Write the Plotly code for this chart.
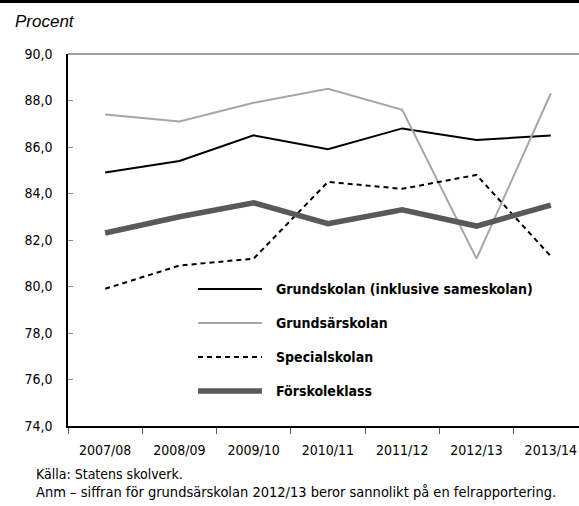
import plotly.graph_objects as go

# läsår
years = ["2007/08", "2008/09", "2009/10", "2010/11", "2011/12", "2012/13", "2013/14"]

grundskolan = [84.9, 85.4, 86.5, 85.9, 86.8, 86.3, 86.5]
grundsarskolan = [87.4, 87.1, 87.9, 88.5, 87.6, 81.2, 88.3]
specialskolan = [79.9, 80.9, 81.2, 84.5, 84.2, 84.8, 81.3]
forskoleklass = [82.3, 83.0, 83.6, 82.7, 83.3, 82.6, 83.5]

y_ticks = [74, 76, 78, 80, 82, 84, 86, 88, 90]
y_labels = ["74,0", "76,0", "78,0", "80,0", "82,0", "84,0", "86,0", "88,0", "90,0"]

FONT = "DejaVu Sans Condensed, Liberation Sans Narrow, Arial Narrow, sans-serif"

series = [
    ("Grundskolan (inklusive sameskolan)", grundskolan, dict(color="#000000", width=2)),
    ("Grundsärskolan", grundsarskolan, dict(color="#a6a6a6", width=2)),
    ("Specialskolan", specialskolan, dict(color="#000000", width=2, dash="5px,4px")),
    ("Förskoleklass", forskoleklass, dict(color="#595959", width=5.5)),
]

fig = go.Figure()
for name, vals, line in series:
    fig.add_trace(go.Scatter(x=years, y=vals, name=name, mode="lines", line=line,
                             showlegend=False))

# egen teckenförklaring inne i diagrammet (längre linjeprover än plotlys legend)
leg_rows = [0.3683, 0.2769, 0.1855, 0.0941]
for (name, vals, line), ry in zip(series, leg_rows):
    fig.add_shape(type="line", xref="paper", yref="paper", x0=0.2544, x1=0.3796, y0=ry, y1=ry,
                  line=line)
    fig.add_annotation(text="<b>" + name + "</b>", xref="paper", yref="paper", x=0.403, y=ry,
                       xanchor="left", yanchor="middle", showarrow=False,
                       font=dict(family=FONT, size=14, color="#000000"))

fig.update_layout(
    width=579, height=506,
    margin=dict(l=68, r=0, t=54, b=80),
    plot_bgcolor="white", paper_bgcolor="white",
    font=dict(family=FONT, size=14, color="#000000"),
    showlegend=False,
    xaxis=dict(type="category", range=[-0.5, 6.38], showgrid=False, showline=True,
               linecolor="#000000", linewidth=1.5, ticks="outside", tickson="boundaries",
               ticklen=6, tickcolor="#555555", ticklabelstandoff=10, tickfont=dict(size=14)),
    yaxis=dict(range=[74, 90], tickvals=y_ticks, ticktext=y_labels, showgrid=False,
               showline=True, linecolor="#000000", linewidth=1.5, ticks="inside",
               ticklen=5, tickcolor="#888888", ticklabelstandoff=11, tickfont=dict(size=14),
               zeroline=False),
)

# grå linje överst i diagrammet och svart linje överst på sidan
fig.add_shape(type="line", xref="paper", yref="paper", x0=-0.2, x1=1.2, y0=1.1411, y1=1.1411,
              line=dict(color="#000000", width=3))
fig.add_shape(type="line", xref="paper", yref="paper", x0=0, x1=1, y0=1, y1=1,
              line=dict(color="#808080", width=1.5))

fig.add_annotation(text="<i>Procent</i>", xref="paper", yref="paper", x=-0.1076, y=1.0887,
                   xanchor="left", yanchor="middle", showarrow=False,
                   font=dict(family="Liberation Sans, Arial, sans-serif", size=17))
fig.add_annotation(text="Källa: Statens skolverk.", xref="paper", yref="paper", x=-0.067, y=-0.129,
                   xanchor="left", yanchor="middle", showarrow=False, font=dict(size=14))
fig.add_annotation(text="Anm – siffran för grundsärskolan 2012/13 beror sannolikt på en felrapportering.",
                   xref="paper", yref="paper", x=-0.067, y=-0.1774,
                   xanchor="left", yanchor="middle", showarrow=False, font=dict(size=14.5))

# sidans standardmarginal (8 px) tas bort så att figuren hamnar i hörnet
fig.write_html("out.html", config={"displayModeBar": False},
               post_script="document.body.style.margin='0';")
